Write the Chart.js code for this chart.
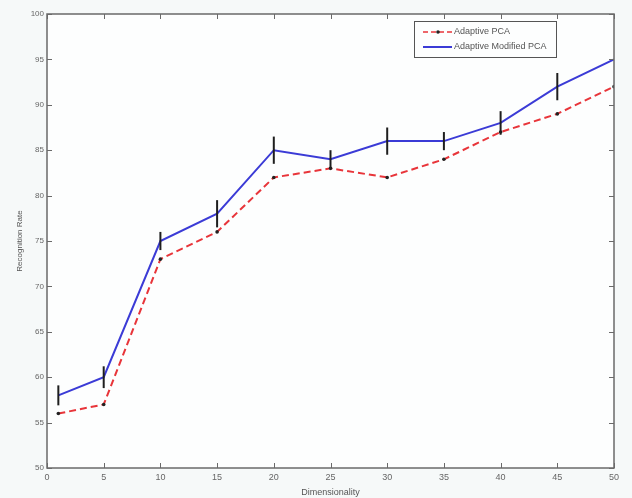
<!DOCTYPE html>
<html>
<head>
<meta charset="utf-8">
<script src="https://cdn.jsdelivr.net/npm/chart.js@4/dist/chart.umd.min.js"></script>
<style>
html,body{margin:0;padding:0;background:#f6f9f9;}
#wrap{width:632px;height:498px;position:relative;}
</style>
</head>
<body>
<div id="wrap"><canvas id="c" width="632" height="498"></canvas></div>
<script>
const dimensions = [1, 5, 10, 15, 20, 25, 30, 35, 40, 45, 50];
const adaptivePCA = [56, 57, 73, 76, 82, 83, 82, 84, 87, 89, 92];
const adaptiveModifiedPCA = [58, 60, 75, 78, 85, 84, 86, 86, 88, 92, 95];
const modifiedErrors = [1.1, 1.2, 1.0, 1.5, 1.5, 1.0, 1.5, 1.0, 1.3, 1.5, 0];
const xTicks = [0, 5, 10, 15, 20, 25, 30, 35, 40, 45, 50];
const yTicks = [50, 55, 60, 65, 70, 75, 80, 85, 90, 95, 100];
const seriesNames = ['Adaptive PCA', 'Adaptive Modified PCA'];

const FONT = 'Liberation Sans, Arial, sans-serif';

const toPoints = (xs, ys) => xs.map((x, i) => ({x: x, y: ys[i]}));

const boxPlugin = {
  id: 'box',
  beforeDraw(chart) {
    const {ctx, chartArea: a} = chart;
    ctx.save();
    ctx.fillStyle = '#fdfefe';
    ctx.fillRect(a.left, a.top, a.right - a.left, a.bottom - a.top);
    ctx.restore();
  },
  afterDatasetsDraw(chart) {
    const {ctx, chartArea: a, scales} = chart;
    // error bars
    const ds = chart.data.datasets[1];
    ctx.save();
    ctx.strokeStyle = '#1e1e1e';
    ctx.lineWidth = 2;
    ds.data.forEach((p, i) => {
      const e = modifiedErrors[i];
      if (!e) return;
      const px = scales.x.getPixelForValue(p.x);
      ctx.beginPath();
      ctx.moveTo(px, scales.y.getPixelForValue(p.y - e));
      ctx.lineTo(px, scales.y.getPixelForValue(p.y + e));
      ctx.stroke();
    });
    ctx.restore();
    // frame and inward ticks
    ctx.save();
    ctx.strokeStyle = '#6a6a6a';
    ctx.lineWidth = 1.5;
    ctx.strokeRect(a.left, a.top, a.right - a.left, a.bottom - a.top);
    ctx.lineWidth = 1;
    const L = 5;
    xTicks.forEach(v => {
      const px = Math.round(scales.x.getPixelForValue(v)) + 0.5;
      ctx.beginPath();
      ctx.moveTo(px, a.bottom); ctx.lineTo(px, a.bottom - L);
      ctx.moveTo(px, a.top); ctx.lineTo(px, a.top + L);
      ctx.stroke();
    });
    yTicks.forEach(v => {
      const py = Math.round(scales.y.getPixelForValue(v)) + 0.5;
      ctx.beginPath();
      ctx.moveTo(a.left, py); ctx.lineTo(a.left + L, py);
      ctx.moveTo(a.right, py); ctx.lineTo(a.right - L, py);
      ctx.stroke();
    });
    // legend
    const lx = 414, ly = 21, lw = 142, lh = 36;
    ctx.fillStyle = '#fdfefe';
    ctx.fillRect(lx, ly, lw, lh);
    ctx.strokeStyle = '#555';
    ctx.lineWidth = 1;
    ctx.strokeRect(lx + 0.5, ly + 0.5, lw, lh);
    const ds0 = chart.data.datasets[0], ds1 = chart.data.datasets[1];
    const rows = [ly + 11, ly + 26];
    ctx.strokeStyle = ds0.borderColor;
    ctx.lineWidth = 1.5;
    ctx.setLineDash([5, 3]);
    ctx.beginPath(); ctx.moveTo(lx + 9, rows[0]); ctx.lineTo(lx + 38, rows[0]); ctx.stroke();
    ctx.setLineDash([]);
    ctx.fillStyle = '#222';
    ctx.beginPath(); ctx.arc(lx + 24, rows[0], 1.8, 0, Math.PI * 2); ctx.fill();
    ctx.strokeStyle = ds1.borderColor;
    ctx.lineWidth = 2;
    ctx.beginPath(); ctx.moveTo(lx + 9, rows[1]); ctx.lineTo(lx + 38, rows[1]); ctx.stroke();
    ctx.fillStyle = '#555';
    ctx.font = '9px ' + FONT;
    ctx.textBaseline = 'middle';
    ctx.fillText(seriesNames[0], lx + 40, rows[0]);
    ctx.fillText(seriesNames[1], lx + 40, rows[1]);
    ctx.restore();
  }
};

new Chart(document.getElementById('c'), {
  type: 'line',
  data: {
    datasets: [
      {
        label: seriesNames[0],
        data: toPoints(dimensions, adaptivePCA),
        borderColor: '#e8353a',
        borderWidth: 2,
        borderDash: [7, 4],
        pointRadius: 1.8,
        pointBackgroundColor: '#222',
        pointBorderWidth: 0,
        tension: 0
      },
      {
        label: seriesNames[1],
        data: toPoints(dimensions, adaptiveModifiedPCA),
        borderColor: '#3b3bd6',
        borderWidth: 2,
        pointRadius: 0,
        tension: 0
      }
    ]
  },
  options: {
    responsive: false,
    animation: false,
    devicePixelRatio: 1,
    layout: {padding: {top: 14, right: 18, left: 15, bottom: 0}},
    plugins: {legend: {display: false}, tooltip: {enabled: false}},
    scales: {
      x: {
        type: 'linear', min: 0, max: 50,
        afterBuildTicks(s) { s.ticks = xTicks.map(v => ({value: v})); },
        afterFit(s) { s.height = 30; },
        grid: {display: false, drawTicks: false},
        border: {display: false},
        ticks: {color: '#666', font: {size: 9, family: FONT}, padding: 4, maxRotation: 0},
        title: {display: true, text: 'Dimensionality', color: '#555', font: {size: 9, family: FONT}, padding: {top: 0, bottom: 0}}
      },
      y: {
        type: 'linear', min: 50, max: 100,
        afterBuildTicks(s) { s.ticks = yTicks.map(v => ({value: v})); },
        afterFit(s) { s.width = 32; },
        grid: {display: false, drawTicks: false},
        border: {display: false},
        ticks: {color: '#666', font: {size: 8, family: FONT}, padding: 3},
        title: {display: true, text: 'Recognition Rate', color: '#555', font: {size: 8, family: FONT}, padding: {top: 0, bottom: 4}}
      }
    }
  },
  plugins: [boxPlugin]
});
</script>
</body>
</html>
